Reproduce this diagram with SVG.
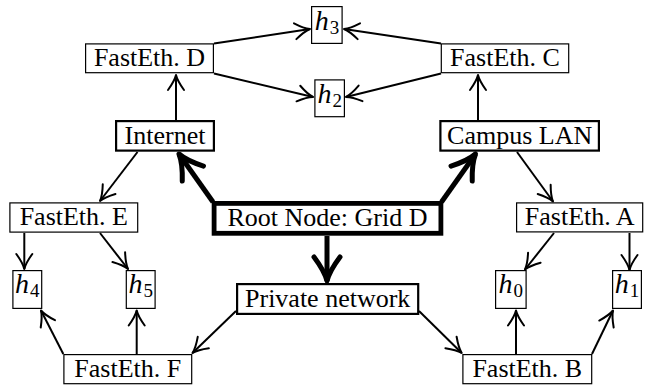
<svg xmlns="http://www.w3.org/2000/svg" width="645" height="385" viewBox="0 0 645 385">
<style>
.thin{fill:#fff;stroke:#000;stroke-width:1.2}
.med{fill:#fff;stroke:#000;stroke-width:2.2}
.root{fill:#fff;stroke:#000;stroke-width:4.8}
.lbl{font-family:"Liberation Serif","Times New Roman",serif;font-size:26px;fill:#000;text-anchor:middle}
.hl{font-family:"Liberation Serif","Times New Roman",serif;font-size:28px;fill:#000;text-anchor:middle}
.hi{font-style:italic}
.sub{font-size:19px}
.e{fill:none;stroke:#000;stroke-width:2;marker-end:url(#a)}
.t{fill:none;stroke:#000;stroke-width:5;marker-end:url(#at)}
</style>
<defs>
<marker id="a" viewBox="-18 -11 20 22" refX="0" refY="0" markerWidth="20" markerHeight="22" markerUnits="userSpaceOnUse" orient="auto">
<path d="M-15,-8 Q-6,-1.5 0,0 Q-6,1.5 -15,8" fill="none" stroke="#000" stroke-width="2" stroke-linecap="round" stroke-linejoin="round"/>
</marker>
<marker id="at" viewBox="-28 -16 31 32" refX="0" refY="0" markerWidth="31" markerHeight="32" markerUnits="userSpaceOnUse" orient="auto">
<path d="M-24,-13 Q-10,-2.5 0,0 Q-10,2.5 -24,13" fill="none" stroke="#000" stroke-width="5" stroke-linecap="round" stroke-linejoin="round"/>
</marker>
</defs>
<rect x="0" y="0" width="645" height="385" fill="#fff"/>
<g id="connectors">
<line class="e" x1="176" y1="120" x2="176" y2="75"/>
<line class="e" x1="478" y1="120" x2="478" y2="75"/>
<line class="e" x1="214" y1="43.5" x2="310" y2="29"/>
<line class="e" x1="214" y1="73.5" x2="313" y2="97"/>
<line class="e" x1="441" y1="43.5" x2="344" y2="29"/>
<line class="e" x1="441" y1="73.5" x2="346" y2="97"/>
<line class="e" x1="137.5" y1="152" x2="100" y2="201"/>
<line class="e" x1="517" y1="152" x2="553" y2="201.5"/>
<line class="e" x1="24.3" y1="233" x2="24.3" y2="269"/>
<line class="e" x1="100" y1="233" x2="128" y2="269"/>
<line class="e" x1="554" y1="233" x2="525" y2="269.5"/>
<line class="e" x1="629.5" y1="233" x2="629.5" y2="270"/>
<line class="e" x1="63.3" y1="354" x2="41" y2="310.5"/>
<line class="e" x1="136.7" y1="354" x2="136.7" y2="310.5"/>
<line class="e" x1="516" y1="354" x2="516" y2="310.5"/>
<line class="e" x1="592" y1="354" x2="613" y2="310.5"/>
<line class="e" x1="236" y1="311" x2="192.5" y2="353"/>
<line class="e" x1="419" y1="311" x2="461.7" y2="353"/>
<line class="t" x1="213" y1="202" x2="179" y2="154"/>
<line class="t" x1="441.5" y1="202" x2="475.5" y2="154"/>
<line class="t" x1="327" y1="236" x2="327" y2="281"/>
</g>
<g id="fastethD"><rect class="thin" x="85.6" y="43.9" width="127.8" height="28.8"/><text class="lbl" x="149.5" y="66">FastEth. D</text></g>
<g id="fastethC"><rect class="thin" x="441.3" y="43.9" width="127.4" height="28.8"/><text class="lbl" x="505" y="66">FastEth. C</text></g>
<g id="h3"><rect class="thin" x="311.6" y="6.6" width="30.5" height="36.8"/><text class="hl" x="327" y="29.5"><tspan class="hi">h</tspan><tspan class="sub" dx="1" dy="4">3</tspan></text></g>
<g id="h2"><rect class="thin" x="314.9" y="79.9" width="29.5" height="36.8"/><text class="hl" x="329.7" y="102.5"><tspan class="hi">h</tspan><tspan class="sub" dx="1" dy="4">2</tspan></text></g>
<g id="internet"><rect class="med" x="116.1" y="121.1" width="97.8" height="29.5"/><text class="lbl" x="165" y="143.5">Internet</text></g>
<g id="campus"><rect class="med" x="440.4" y="121.1" width="158.5" height="29.5"/><text class="lbl" x="519.7" y="143.5">Campus LAN</text></g>
<g id="fastethE"><rect class="thin" x="9.9" y="202.9" width="127.8" height="29.2"/><text class="lbl" x="73.8" y="225.3">FastEth. E</text></g>
<g id="root"><rect class="root" x="214.1" y="203.4" width="226.8" height="29.9"/><text class="lbl" x="327.5" y="226">Root Node: Grid D</text></g>
<g id="fastethA"><rect class="thin" x="516.6" y="202.9" width="126.1" height="29"/><text class="lbl" x="579.7" y="225.3">FastEth. A</text></g>
<g id="h4"><rect class="thin" x="12.9" y="270.6" width="28.8" height="37.8"/><text class="hl" x="27.3" y="292.5"><tspan class="hi">h</tspan><tspan class="sub" dx="1" dy="4">4</tspan></text></g>
<g id="h5"><rect class="thin" x="126.3" y="270.6" width="28.8" height="37.8"/><text class="hl" x="140.7" y="292.5"><tspan class="hi">h</tspan><tspan class="sub" dx="1" dy="4">5</tspan></text></g>
<g id="private"><rect class="med" x="237.1" y="284.1" width="181.1" height="29.8"/><text class="lbl" x="327.7" y="306.7">Private network</text></g>
<g id="h0"><rect class="thin" x="495.6" y="270.6" width="30.5" height="37.8"/><text class="hl" x="510.8" y="292.5"><tspan class="hi">h</tspan><tspan class="sub" dx="1" dy="4">0</tspan></text></g>
<g id="h1"><rect class="thin" x="612.6" y="270.6" width="28.8" height="37.8"/><text class="hl" x="627" y="292.5"><tspan class="hi">h</tspan><tspan class="sub" dx="1" dy="4">1</tspan></text></g>
<g id="fastethF"><rect class="thin" x="63.9" y="354.6" width="127.8" height="29.1"/><text class="lbl" x="127.8" y="377">FastEth. F</text></g>
<g id="fastethB"><rect class="thin" x="462.9" y="354.6" width="128.8" height="29.1"/><text class="lbl" x="527.3" y="377">FastEth. B</text></g>
</svg>
